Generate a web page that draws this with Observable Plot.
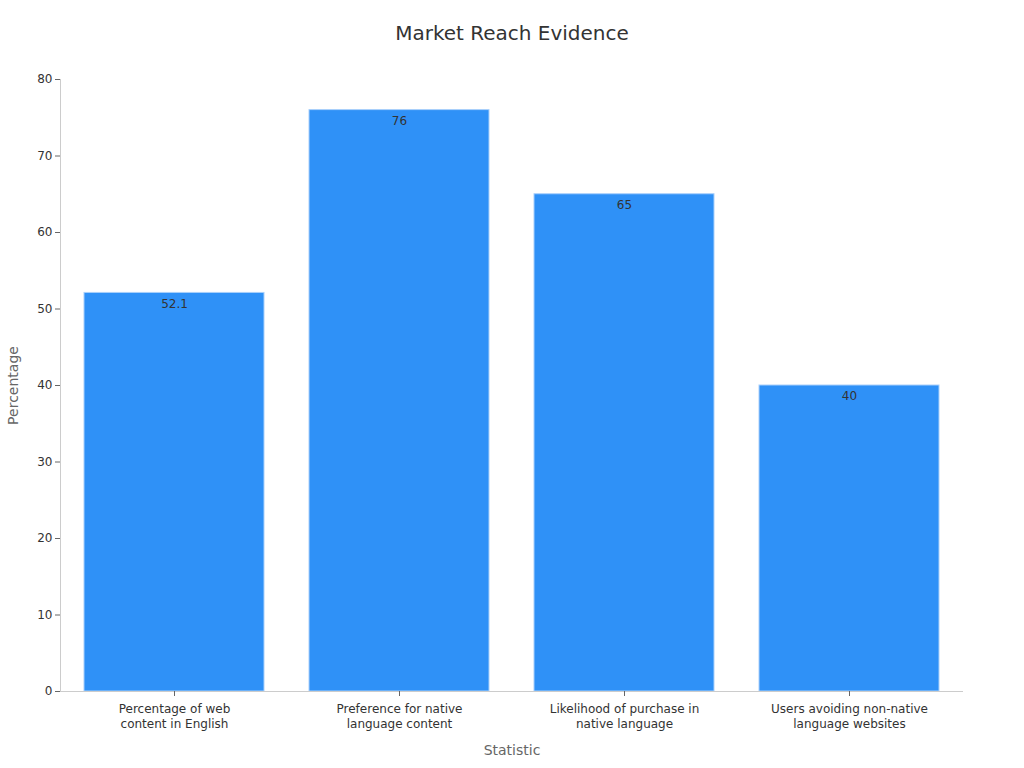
<!DOCTYPE html>
<html><head><meta charset="utf-8">
<script src="https://cdn.jsdelivr.net/npm/d3@7"></script>
<script src="https://cdn.jsdelivr.net/npm/@observablehq/plot@0.6"></script>
<style>
body{margin:0;background:#fff;font-family:"DejaVu Sans",sans-serif;}
#title{height:60px;line-height:66px;text-align:center;font-size:20px;color:#333;}
</style></head>
<body>
<div id="title">Market Reach Evidence</div>
<div id="chart"></div>
<script>
const categories = ["Percentage of web content in English","Preference for native language content","Likelihood of purchase in native language","Users avoiding non-native language websites"];
const tickLabels = ["Percentage of web\ncontent in English","Preference for native\nlanguage content","Likelihood of purchase in\nnative language","Users avoiding non-native\nlanguage websites"];
const values = [52.1, 76, 65, 40];
const yTicks = [0,10,20,30,40,50,60,70,80];

const data = categories.map((c,i)=>({category:c, value:values[i]}));
const labelOf = new Map(categories.map((c,i)=>[c, tickLabels[i]]));

const chart = Plot.plot({
  width:1024, height:708,
  marginTop:19, marginBottom:77, marginLeft:60, marginRight:61,
  style:{fontFamily:"DejaVu Sans, sans-serif", fontSize:"12px", color:"#333"},
  x:{domain:categories, paddingInner:0.2, paddingOuter:0.1},
  y:{domain:[0,80]},
  marks:[
    Plot.barY(data,{x:"category", y:"value", fill:"#2f91f7", stroke:"#a9d0fb", strokeWidth:1}),
    Plot.text(data,{x:"category", y:"value", text:d=>String(d.value), dy:11, fill:"#333", fontSize:12}),
    Plot.frame({anchor:"left", stroke:"#ccc"}),
    Plot.ruleY([0],{stroke:"#ccc"}),
    Plot.axisY({ticks:yTicks, tickSize:5, tickPadding:3, stroke:"#666", fill:"#333", label:null}),
    Plot.axisX({tickSize:5, tickPadding:6, stroke:"#666", fill:"#333", lineHeight:1.25, tickFormat:d=>labelOf.get(d), label:null}),
    Plot.text(["Statistic"],{frameAnchor:"bottom", dy:63, fill:"#666", fontSize:14}),
    Plot.text(["Percentage"],{frameAnchor:"left", textAnchor:"middle", dx:-47, rotate:-90, fill:"#666", fontSize:14})
  ]
});
document.getElementById("chart").appendChild(chart);
</script>
</body></html>
